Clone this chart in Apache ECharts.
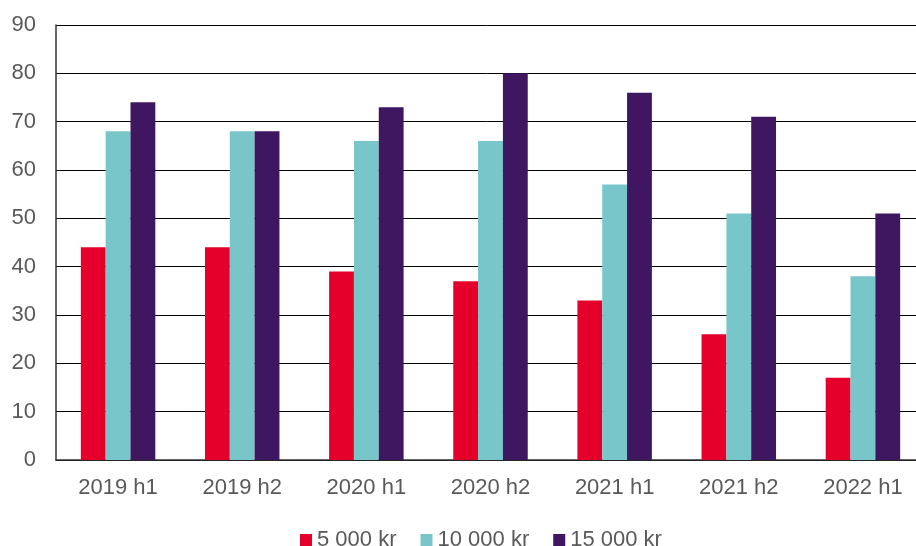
<!DOCTYPE html>
<html>
<head>
<meta charset="utf-8">
<script src="https://cdn.jsdelivr.net/npm/echarts@6/dist/echarts.min.js"></script>
<style>
  html, body { margin: 0; padding: 0; background: #fff; }
  #chart { width: 916px; height: 546px; }
</style>
</head>
<body>
<div id="chart"></div>
<script>
const categories = ["2019 h1", "2019 h2", "2020 h1", "2020 h2", "2021 h1", "2021 h2", "2022 h1"];
const seriesNames = ["5 000 kr", "10 000 kr", "15 000 kr"];
const values5000 = [44, 44, 39, 37, 33, 26, 17];
const values10000 = [68, 68, 66, 66, 57, 51, 38];
const values15000 = [74, 68, 73, 80, 76, 71, 51];
const colors = ["#E4002B", "#78C6C9", "#3F1660"];

const textStyle = { fontFamily: "Liberation Sans, Arial, sans-serif", color: "#595959", fontSize: 22 };

const chart = echarts.init(document.getElementById("chart"));
chart.setOption({
  animation: false,
  textStyle: textStyle,
  // plot area runs slightly past the right edge, as in the reference
  grid: { left: 56, right: -9, top: 25, bottom: 86, containLabel: false, outerBoundsMode: "none" },
  legend: {
    top: 524,
    left: 295,
    itemWidth: 12,
    itemHeight: 12,
    itemGap: 24,
    icon: "rect",
    textStyle: textStyle,
    data: seriesNames
  },
  xAxis: {
    type: "category",
    data: categories,
    axisLine: { lineStyle: { color: "#333", width: 1.5 } },
    axisTick: { show: false },
    axisLabel: Object.assign({}, textStyle, { margin: 17 })
  },
  yAxis: {
    type: "value",
    min: 0,
    max: 90,
    interval: 10,
    axisLine: { show: true, lineStyle: { color: "#333", width: 1.5 } },
    axisLabel: Object.assign({}, textStyle, { margin: 20 }),
    splitLine: { lineStyle: { color: "#000", width: 1 } }
  },
  series: [
    { name: seriesNames[0], type: "bar", data: values5000, itemStyle: { color: colors[0] }, barGap: "0%", barCategoryGap: "40%" },
    { name: seriesNames[1], type: "bar", data: values10000, itemStyle: { color: colors[1] }, barGap: "0%", barCategoryGap: "40%" },
    { name: seriesNames[2], type: "bar", data: values15000, itemStyle: { color: colors[2] }, barGap: "0%", barCategoryGap: "40%" }
  ]
});
</script>
</body>
</html>
